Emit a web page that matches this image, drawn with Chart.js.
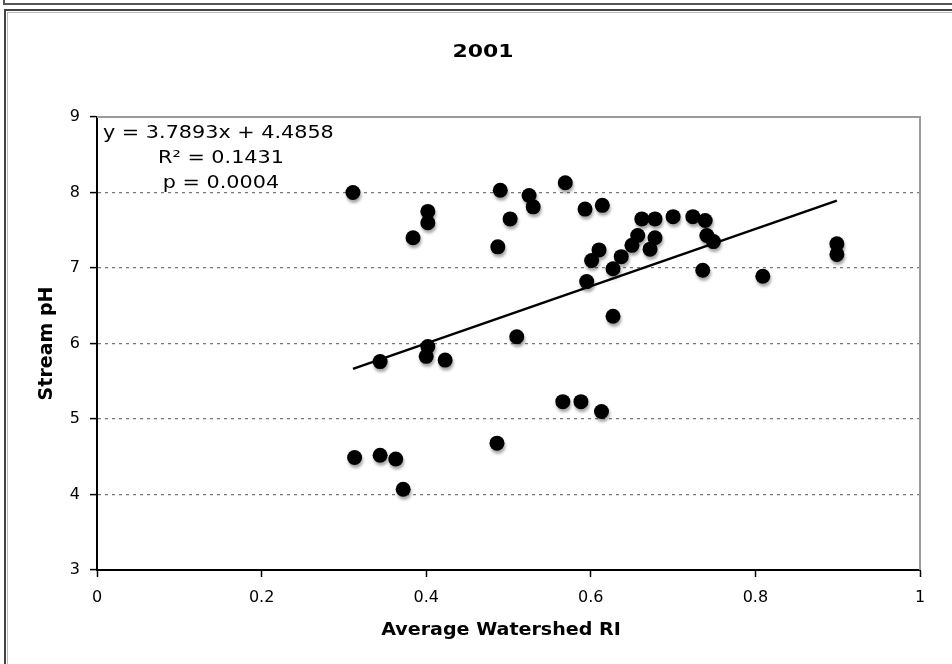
<!DOCTYPE html>
<html>
<head>
<meta charset="utf-8">
<script src="https://cdn.jsdelivr.net/npm/chart.js@4/dist/chart.umd.min.js"></script>
<style>
  html, body { margin: 0; padding: 0; background: #fff; }
  #wrap { position: relative; width: 952px; height: 664px; overflow: hidden; }
  #prev { position: absolute; left: 3px; top: -20px; width: 1000px; height: 23px;
          border-left: 2px solid #555; border-bottom: 2px solid #555; }
  #frame { position: absolute; left: 4px; top: 9px; width: 1000px; height: 700px;
           border-left: 2px solid #444; border-top: 2px solid #444; }
  #frame2 { position: absolute; left: 7px; top: 12px; width: 1000px; height: 700px;
           border-left: 1px solid #bbb; border-top: 1px solid #bbb; }
  canvas { position: absolute; left: 0; top: 0; }
</style>
</head>
<body>
<div id="wrap">
  <div id="prev"></div>
  <div id="frame"></div>
  <div id="frame2"></div>
  <canvas id="c" width="952" height="664"></canvas>
</div>
<script>
// ---- data ----
const watershedRI = [
  0.311, 0.402, 0.402, 0.384, 0.490, 0.525, 0.530, 0.502, 0.487, 0.510,
  0.402, 0.400, 0.423, 0.344,
  0.566, 0.588, 0.613, 0.486, 0.313, 0.344, 0.363, 0.372,
  0.899, 0.899, 0.736, 0.809, 0.741, 0.749,
  0.569, 0.593, 0.614, 0.662, 0.678, 0.700, 0.724, 0.739, 0.657, 0.678,
  0.650, 0.610, 0.672, 0.601, 0.637, 0.627, 0.595, 0.627
];
const streamPH = [
  8.00, 7.75, 7.60, 7.40, 8.03, 7.96, 7.81, 7.65, 7.28, 6.09,
  5.96, 5.83, 5.78, 5.76,
  5.23, 5.23, 5.10, 4.68, 4.49, 4.52, 4.47, 4.07,
  7.32, 7.18, 6.97, 6.89, 7.43, 7.35,
  8.13, 7.78, 7.83, 7.65, 7.65, 7.68, 7.68, 7.63, 7.43, 7.40,
  7.30, 7.24, 7.25, 7.10, 7.15, 6.99, 6.82, 6.36
];
const trendSlope = 3.7893;
const trendIntercept = 4.4858;
const equationLines = ["y = 3.7893x + 4.4858", "R\u00B2 = 0.1431", "p = 0.0004"];
const chartTitle = "2001";
const xTitle = "Average Watershed RI";
const yTitle = "Stream pH";
const xTicks = [0, 0.2, 0.4, 0.6, 0.8, 1];
const yTicks = [3, 4, 5, 6, 7, 8, 9];

const points = watershedRI.map((x, i) => ({ x: x, y: streamPH[i] }));
const xMin = Math.min(...watershedRI), xMax = Math.max(...watershedRI);
const trend = [xMin, xMax].map(x => ({ x: x, y: trendSlope * x + trendIntercept }));

const FONT = "'DejaVu Sans', Verdana, sans-serif";

const shadowPlugin = {
  id: 'shadow',
  beforeDatasetDraw(chart, args) {
    if (args.index === 0) {
      const ctx = chart.ctx;
      ctx.save();
      ctx.shadowColor = 'rgba(0,0,0,0.35)';
      ctx.shadowBlur = 3;
      ctx.shadowOffsetX = 1;
      ctx.shadowOffsetY = 3;
    }
  },
  afterDatasetDraw(chart, args) {
    if (args.index === 0) chart.ctx.restore();
  }
};

const framePlugin = {
  id: 'plotFrame',
  beforeDatasetsDraw(chart) {
    const { ctx, chartArea: a } = chart;
    ctx.save();
    ctx.strokeStyle = '#9a9a9a';
    ctx.lineWidth = 2;
    ctx.beginPath();
    ctx.moveTo(a.left, a.top);
    ctx.lineTo(a.right, a.top);
    ctx.lineTo(a.right, a.bottom);
    ctx.stroke();
    ctx.restore();
  }
};

// draws text stretched horizontally by sx around its anchor
function wideText(ctx, text, x, y, sx, align) {
  ctx.save();
  ctx.translate(x, y);
  ctx.scale(sx, 1);
  ctx.textAlign = align;
  ctx.fillText(text, 0, 0);
  ctx.restore();
}

const textPlugin = {
  id: 'texts',
  afterDraw(chart) {
    const { ctx, chartArea: a } = chart;
    ctx.save();
    ctx.fillStyle = '#000';
    ctx.textBaseline = 'middle';
    // chart title
    ctx.font = "bold 18px " + FONT;
    wideText(ctx, chartTitle, 483, 52, 1.22, 'center');
    // x axis title
    ctx.font = "bold 18px " + FONT;
    wideText(ctx, xTitle, 501, 630, 1.06, 'center');
    // regression annotation
    ctx.font = "17px " + FONT;
    wideText(ctx, equationLines[0], a.left + 6, a.top + 17, 1.22, 'left');
    wideText(ctx, equationLines[1], a.left + 124, a.top + 42, 1.22, 'center');
    wideText(ctx, equationLines[2], a.left + 124, a.top + 67, 1.22, 'center');
    ctx.restore();
  }
};

new Chart(document.getElementById('c'), {
  type: 'scatter',
  data: {
    datasets: [
      {
        data: points,
        backgroundColor: '#000',
        borderColor: '#000',
        pointRadius: 7.5,
        pointHoverRadius: 7.5,
        borderWidth: 0
      },
      {
        type: 'line',
        data: trend,
        showLine: true,
        borderColor: '#000',
        borderWidth: 2.5,
        pointRadius: 0,
        fill: false
      }
    ]
  },
  plugins: [shadowPlugin, framePlugin, textPlugin],
  options: {
    responsive: false,
    animation: false,
    devicePixelRatio: 1,
    layout: { padding: { left: 0, right: 32, top: 117, bottom: 0 } },
    plugins: {
      legend: { display: false },
      tooltip: { enabled: false },
      title: { display: false }
    },
    scales: {
      x: {
        type: 'linear',
        min: 0, max: 1,
        afterBuildTicks(scale) { scale.ticks = xTicks.map(v => ({ value: v })); },
        afterFit(scale) { scale.height = 94; },
        ticks: {
          color: '#000',
          font: { family: FONT, size: 16 },
          padding: 11,
          maxRotation: 0,
          callback: v => String(v)
        },
        grid: {
          drawOnChartArea: false,
          drawTicks: true,
          tickLength: 7,
          tickColor: '#000',
          tickWidth: 1.5
        },
        border: { display: true, color: '#000', width: 2 },
        title: { display: false }
      },
      y: {
        type: 'linear',
        min: 3, max: 9,
        afterBuildTicks(scale) { scale.ticks = yTicks.map(v => ({ value: v })); },
        afterFit(scale) { scale.width = 97; },
        ticks: {
          color: '#000',
          font: { family: FONT, size: 16 },
          padding: 10,
          callback: v => String(v)
        },
        grid: {
          drawOnChartArea: true,
          drawTicks: true,
          tickLength: 7,
          tickColor: '#000',
          tickWidth: 1.5,
          lineWidth: 1.2,
          color: ctx => (ctx.tick && (ctx.tick.value === 3 || ctx.tick.value === 9)) ? 'rgba(0,0,0,0)' : '#777'
        },
        border: { display: true, color: '#000', width: 2, dash: [3, 4] },
        title: {
          display: true,
          text: yTitle,
          color: '#000',
          font: { family: FONT, size: 19, weight: 'bold' },
          padding: { top: 36, bottom: 0 }
        }
      }
    }
  }
});
</script>
</body>
</html>
